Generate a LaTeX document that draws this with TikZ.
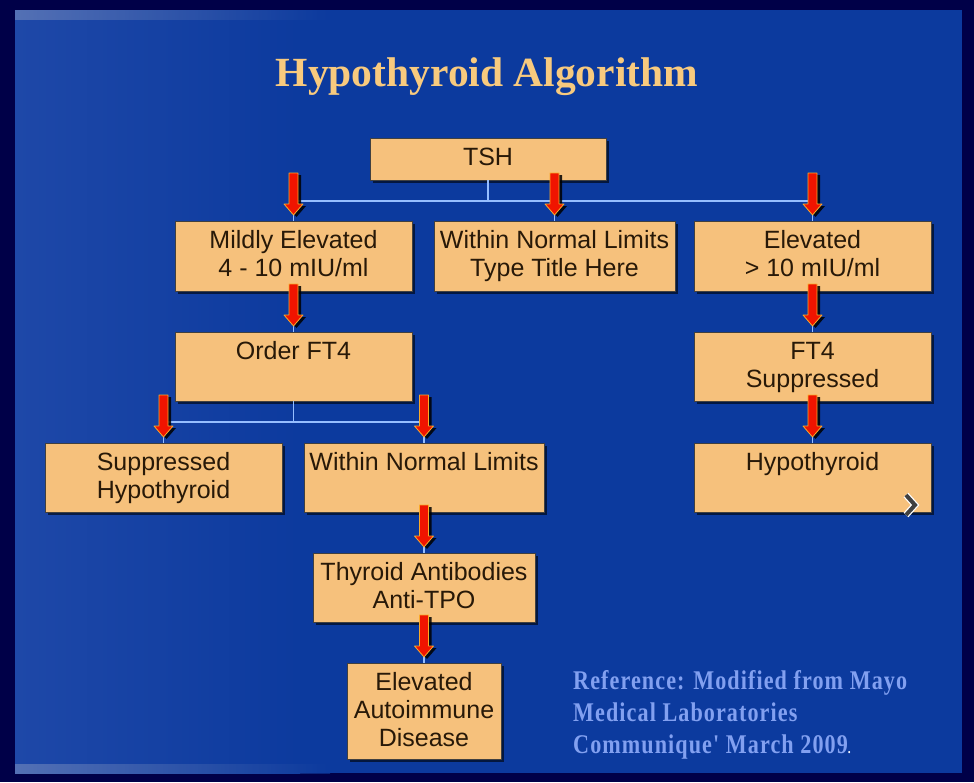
\documentclass[tikz,border=0pt]{standalone}
\usepackage{fontspec}
\setmainfont{Liberation Sans}
\newfontfamily\titlefont{Liberation Serif}
\newfontfamily\reffont[FakeStretch=0.82,LetterSpace=4]{Liberation Serif}
\usetikzlibrary{calc,shadows}
\definecolor{bgblue}{RGB}{12,58,158}
\definecolor{bgleft}{RGB}{30,72,168}
\definecolor{framecol}{RGB}{0,0,72}
\definecolor{stripcol}{RGB}{120,140,190}
\definecolor{boxfill}{RGB}{246,193,124}
\definecolor{boxtext}{RGB}{40,25,8}
\definecolor{linkblue}{RGB}{150,190,255}
\definecolor{titlecol}{RGB}{248,202,126}
\definecolor{refcol}{RGB}{130,160,240}
\definecolor{arrred}{RGB}{240,20,0}
\definecolor{arrrim}{RGB}{250,170,40}
\newcommand\bxt[3]{\begin{minipage}[t][#2][t]{#1}\centering\rule{0pt}{27pt}#3\end{minipage}}
% arrow path: start, tip, dx, dy (shift down)
\newcommand\arrowpath[4]{let \p1=#1, \p2=#2 in
  (\x1-4.5pt+#3,\y1-#4) -- (\x1+4.5pt+#3,\y1-#4) -- (\x1+4.5pt+#3,\y2+11pt-#4)
  -- (\x1+9.5pt+#3,\y2+11pt-#4) -- (\x1+#3,\y2-#4) -- (\x1-9.5pt+#3,\y2+11pt-#4)
  -- (\x1-4.5pt+#3,\y2+11pt-#4) -- cycle}
\newcommand\redarrow[1]{%
  \fill[black,opacity=0.85] \arrowpath{([yshift=48pt]#1.north)}{([yshift=6pt]#1.north)}{3pt}{2pt};
  \filldraw[fill=arrred,draw=arrrim,line width=0.8pt,line join=round] \arrowpath{([yshift=48pt]#1.north)}{([yshift=6pt]#1.north)}{0pt}{0pt};}
\tikzset{
  box/.style={fill=boxfill, draw=black!75, line width=0.8pt, inner sep=0pt, outer sep=0pt,
    text=boxtext, font=\fontsize{25}{28}\selectfont,
    drop shadow={shadow xshift=2.5pt, shadow yshift=-2.5pt, opacity=0.6, fill=black}},
  link/.style={draw=linkblue, line width=1.4pt},
  reftext/.style={anchor=base west, inner sep=0pt, text=refcol, font=\reffont\bfseries\fontsize{27}{32}\selectfont},
}
\begin{document}
\begin{tikzpicture}[x=1pt,y=-1pt]
% background
\fill[framecol] (0,0) rectangle (974,782);
\fill[bgblue] (15,10) rectangle (962,773);
\shade[left color=bgleft, right color=bgblue] (15,10) rectangle (300,773);
\shade[left color=stripcol, right color=bgblue, middle color=stripcol!50!bgblue, opacity=0.6] (15,10) rectangle (330,19);
\shade[left color=stripcol, right color=bgblue, middle color=stripcol!50!bgblue, opacity=0.6] (15,764) rectangle (330,773);
\useasboundingbox (0,0) rectangle (974,782);

% title
\node[font=\titlefont\bfseries\fontsize{41.5}{44}\selectfont, text=titlecol, anchor=base] (title) at (487,86) {Hypothyroid Algorithm};

% boxes
\node[box] (tsh)   at (488,159)     {\bxt{236pt}{42pt}{TSH}};
\node[box] (mild)  at (293.5,256)   {\bxt{237pt}{70pt}{Mildly Elevated\\4 - 10 mIU/ml}};
\node[box] (wnl1)  at (554.5,256)   {\bxt{241pt}{70pt}{Within Normal Limits\\Type Title Here}};
\node[box] (elev)  at (812.5,256)   {\bxt{237pt}{70pt}{Elevated\\> 10 mIU/ml}};
\node[box] (order) at (293.5,366.5) {\bxt{237pt}{69pt}{Order FT4}};
\node[box] (ft4)   at (812.5,366.5) {\bxt{237pt}{69pt}{FT4\\Suppressed}};
\node[box] (supp)  at (163.5,477.5) {\bxt{237pt}{69pt}{Suppressed\\Hypothyroid}};
\node[box] (wnl2)  at (424,477.5)   {\bxt{240pt}{69pt}{Within Normal Limits}};
\node[box] (hypo)  at (812.5,477.5) {\bxt{237pt}{69pt}{Hypothyroid}};
\node[box] (thy)   at (424,587.5)   {\bxt{222pt}{69pt}{Thyroid Antibodies\\Anti-TPO}};
\node[box] (auto)  at (424,711)     {\bxt{154pt}{96pt}{Elevated\\Autoimmune\\Disease}};

% connectors
\draw[link] (tsh.south) -- ++(0,21) coordinate (tj) -| (mild.north);
\draw[link] (tj) -| (wnl1.north);
\draw[link] (tj) -| (elev.north);
\draw[link] (mild.south) -- (order.north);
\draw[link] (order.south) -- ++(0,21) coordinate (oj) -| (supp.north);
\draw[link] (oj) -| (wnl2.north);
\draw[link] (wnl2.south) -- (thy.north);
\draw[link] (thy.south) -- (auto.north);
\draw[link] (elev.south) -- (ft4.north);
\draw[link] (ft4.south) -- (hypo.north);

% red arrows
\redarrow{mild}
\redarrow{wnl1}
\redarrow{elev}
\redarrow{order}
\redarrow{ft4}
\redarrow{supp}
\redarrow{wnl2}
\redarrow{hypo}
\redarrow{thy}
\redarrow{auto}

% chevron mark
\coordinate (chev) at (910,505);
\draw[white, line width=6.5pt, line join=miter] ([shift={(-4,-10)}]chev) -- ([shift={(5,0)}]chev) -- ([shift={(-4,10)}]chev);
\draw[black!75, line width=4pt, line join=miter] ([shift={(-4,-10)}]chev) -- ([shift={(5,0)}]chev) -- ([shift={(-4,10)}]chev);

% reference
\node[reftext] (ref1) at (573,689) {Reference: Modified from Mayo};
\node[reftext] (ref2) at (573,721) {Medical Laboratories};
\node[reftext] (ref3) at (573,753) {Communique' March 2009\textcolor{white}{\fontsize{14}{16}\selectfont.}};
\end{tikzpicture}
\end{document}
